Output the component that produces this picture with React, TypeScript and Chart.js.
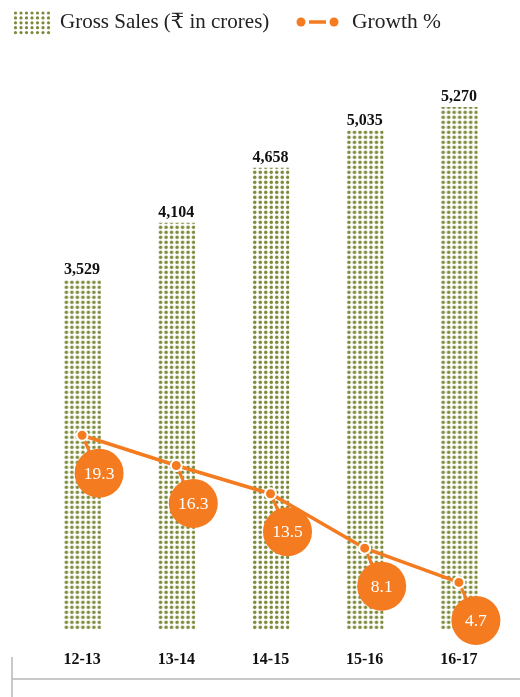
import React, { useEffect, useRef } from "react";
import { Chart, registerables } from "chart.js";

Chart.register(...registerables);

const categories = ["12-13", "13-14", "14-15", "15-16", "16-17"];
const grossSales = [3529, 4104, 4658, 5035, 5270];
const salesLabels = ["3,529", "4,104", "4,658", "5,035", "5,270"];
const growth = [19.3, 16.3, 13.5, 8.1, 4.7];

const OLIVE = "#7b8a3a";
const ORANGE = "#f47b20";
const SERIF = "'Liberation Serif', 'DejaVu Serif', serif";

function makeDotCanvas(): HTMLCanvasElement {
  const c = document.createElement("canvas");
  c.width = 11;
  c.height = 10;
  const g = c.getContext("2d")!;
  g.fillStyle = OLIVE;
  for (const [x, y] of [
    [2.75, 2.5],
    [8.25, 2.5],
    [2.75, 7.5],
    [8.25, 7.5],
  ]) {
    g.beginPath();
    g.arc(x, y, 1.8, 0, Math.PI * 2);
    g.fill();
  }
  return c;
}

export default function App() {
  const ref = useRef<HTMLCanvasElement | null>(null);

  useEffect(() => {
    const canvas = ref.current!;
    const ctx = canvas.getContext("2d")!;
    const dotCanvas = makeDotCanvas();
    const BAR_W = 37;

    const overlay = {
      id: "overlay",
      afterDatasetDraw(chart: any, args: any) {
        if (args.index !== 0) return;
        const c = chart.ctx;
        const barMeta = chart.getDatasetMeta(0);
        c.save();
        c.fillStyle = "#111";
        c.font = `bold 16px ${SERIF}`;
        c.textAlign = "center";
        c.textBaseline = "alphabetic";
        barMeta.data.forEach((el: any, i: number) => {
          c.fillText(salesLabels[i], el.x, el.y - 6);
        });
        const lineMeta = chart.getDatasetMeta(1);
        lineMeta.data.forEach((pt: any, i: number) => {
          const cx = pt.x + 17;
          const cy = pt.y + 38;
          c.strokeStyle = ORANGE;
          c.lineWidth = 3;
          c.beginPath();
          c.moveTo(pt.x, pt.y);
          c.lineTo(cx, cy);
          c.stroke();
          c.fillStyle = ORANGE;
          c.beginPath();
          c.arc(cx, cy, 24.5, 0, Math.PI * 2);
          c.fill();
          c.fillStyle = "#fff";
          c.font = `17.5px ${SERIF}`;
          c.textAlign = "center";
          c.textBaseline = "middle";
          c.fillText(String(growth[i]), cx, cy + 1);
        });
        c.restore();
      },
      afterDraw(chart: any) {
        const c = chart.ctx;
        c.save();
        // legend swatch
        c.fillStyle = OLIVE;
        for (let r = 0; r < 5; r++) {
          for (let k = 0; k < 7; k++) {
            c.beginPath();
            c.arc(15.5 + k * 5.5, 13 + r * 4.9, 1.6, 0, Math.PI * 2);
            c.fill();
          }
        }
        c.fillStyle = "#222";
        c.font = `21px ${SERIF}`;
        c.textAlign = "left";
        c.textBaseline = "middle";
        c.fillText("Gross Sales (\u20B9 in crores)", 60, 22);
        // growth legend
        c.strokeStyle = ORANGE;
        c.lineWidth = 3.5;
        c.beginPath();
        c.moveTo(309, 22);
        c.lineTo(326, 22);
        c.stroke();
        c.fillStyle = ORANGE;
        for (const x of [301, 334]) {
          c.beginPath();
          c.arc(x, 22, 4.5, 0, Math.PI * 2);
          c.fill();
        }
        c.fillStyle = "#222";
        c.font = `21.5px ${SERIF}`;
        c.fillText("Growth %", 352, 22);
        // frame lines
        c.strokeStyle = "#b8b8b8";
        c.lineWidth = 1.5;
        c.beginPath();
        c.moveTo(12, 679);
        c.lineTo(520, 679);
        c.moveTo(12, 657);
        c.lineTo(12, 697);
        c.stroke();
        c.restore();
      },
    };

    const chart = new Chart(ctx, {
      type: "bar",
      data: {
        labels: categories,
        datasets: [
          {
            type: "bar",
            data: grossSales,
            yAxisID: "y",
            order: 2,
            barThickness: BAR_W,
            backgroundColor: (context: any) => {
              const pat = context.chart.ctx.createPattern(dotCanvas, "repeat");
              const xs = context.chart.scales?.x;
              const ys = context.chart.scales?.y;
              if (pat && xs && ys && typeof context.dataIndex === "number") {
                const left = xs.getPixelForValue(context.dataIndex) - BAR_W / 2;
                const bottom = ys.getPixelForValue(0);
                try {
                  pat.setTransform(new DOMMatrix().translate(left, bottom));
                } catch (e) {}
              }
              return pat || OLIVE;
            },
          } as any,
          {
            type: "line",
            data: growth,
            yAxisID: "y1",
            order: 1,
            borderColor: ORANGE,
            borderWidth: 3.5,
            pointRadius: 5.5,
            pointBackgroundColor: ORANGE,
            pointBorderColor: "#fff",
            pointBorderWidth: 2,
          } as any,
        ],
      },
      options: {
        animation: false,
        responsive: false,
        maintainAspectRatio: false,
        events: [],
        layout: { padding: { left: 35, right: 14, top: 35, bottom: 8 } },
        plugins: { legend: { display: false }, tooltip: { enabled: false } },
        scales: {
          x: {
            grid: { display: false, drawTicks: false },
            border: { display: false },
            ticks: {
              color: "#111",
              padding: 20,
              font: { family: SERIF, size: 16, weight: "bold" },
            },
          },
          y: { display: false, min: 0, max: 6000 },
          y1: { display: false, min: 0, max: 59 },
        },
      },
      plugins: [overlay],
    } as any);

    return () => chart.destroy();
  }, []);

  return (
    <div style={{ position: "absolute", left: 0, top: 0, width: 520, height: 697 }}>
      <canvas ref={ref} width={520} height={697} style={{ display: "block" }} />
    </div>
  );
}
